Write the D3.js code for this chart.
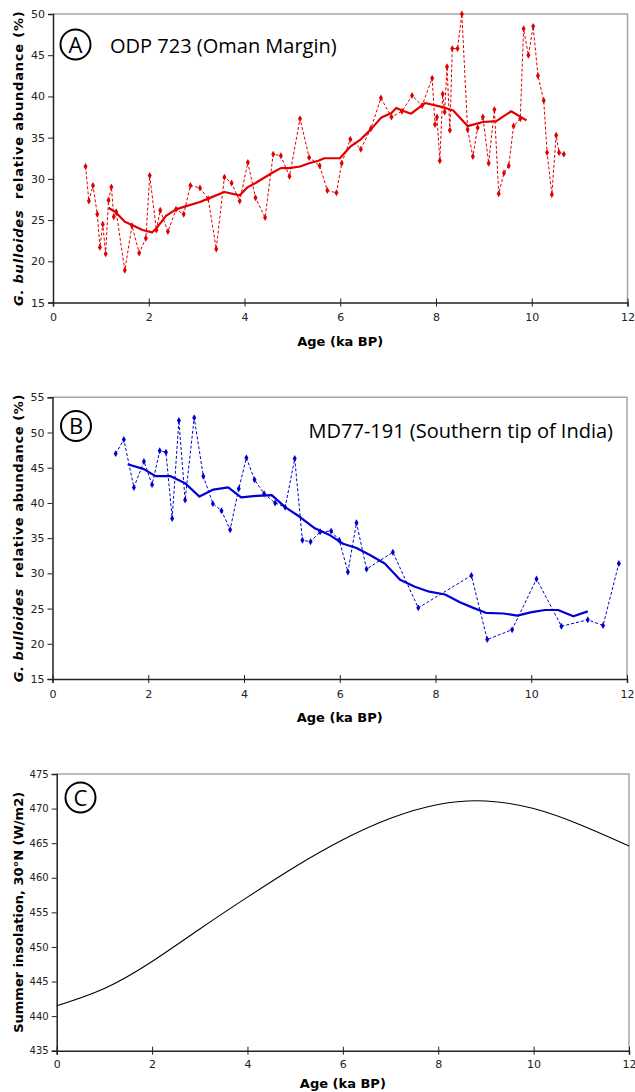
<!DOCTYPE html>
<html>
<head>
<meta charset="utf-8">
<script src="https://cdn.jsdelivr.net/npm/d3@7.9.0/dist/d3.min.js"></script>
<style>
  body { margin: 0; background: #fff; }
  svg { display: block; }
  .tick text { font-family: 'DejaVu Sans', Verdana, sans-serif; fill: #222; }
  .axis-title { font-family: 'DejaVu Sans', Verdana, sans-serif; font-weight: bold; font-size: 13px; fill: #000; }
  .label { font-family: 'Open Sans', 'Noto Sans', sans-serif; fill: #000; }
</style>
</head>
<body>
<div id="chart"></div>
<script>
// Panel A: ODP 723 (Oman Margin)
const ageA = [0.68, 0.75, 0.835, 0.925, 0.98, 1.04, 1.10, 1.16, 1.22, 1.27, 1.32, 1.50, 1.65, 1.80, 1.94,
  2.02, 2.16, 2.24, 2.40, 2.57, 2.73, 2.87, 3.07, 3.24, 3.41, 3.58, 3.73, 3.90, 4.07, 4.23, 4.43, 4.60,
  4.76, 4.94, 5.16, 5.35, 5.57, 5.73, 5.92, 6.03, 6.21, 6.43, 6.64, 6.85, 7.07, 7.29, 7.50, 7.71, 7.92,
  7.98, 8.02, 8.08, 8.14, 8.18, 8.23, 8.29, 8.34, 8.45, 8.54, 8.66, 8.77, 8.87, 8.98, 9.10, 9.22, 9.31,
  9.42, 9.52, 9.62, 9.76, 9.83, 9.93, 10.03, 10.13, 10.25, 10.32, 10.42, 10.51, 10.57, 10.67];
const abundA = [31.5, 27.3, 29.2, 25.7, 21.7, 24.5, 20.9, 27.4, 29.0, 25.4, 26.0, 18.9, 24.3, 21.0, 22.8,
  30.4, 23.8, 26.2, 23.6, 26.3, 25.7, 29.2, 28.9, 27.6, 21.5, 30.2, 29.5, 27.3, 32.0, 27.7, 25.3, 33.0,
  32.8, 30.3, 37.3, 32.6, 31.6, 28.6, 28.3, 31.9, 34.8, 33.6, 36.1, 39.8, 37.5, 38.2, 40.1, 38.9, 42.2,
  36.6, 37.5, 32.2, 40.3, 38.1, 43.6, 35.9, 45.8, 45.8, 50.0, 36.0, 32.7, 36.2, 37.5, 31.9, 38.4, 28.2,
  30.7, 31.6, 36.4, 37.3, 48.2, 45.0, 48.5, 42.5, 39.5, 33.2, 28.1, 35.3, 33.2, 33.0];
const ageAavg = [1.16, 1.32, 1.50, 1.65, 1.87, 2.07, 2.16, 2.36, 2.57, 2.73, 3.07, 3.24, 3.58, 3.90, 4.07,
  4.23, 4.60, 4.76, 4.94, 5.16, 5.35, 5.54, 5.67, 5.99, 6.21, 6.43, 6.64, 6.85, 7.07, 7.17, 7.29, 7.48,
  7.77, 8.14, 8.36, 8.66, 8.98, 9.26, 9.57, 9.89];
const abundAavg = [26.5, 25.9, 24.8, 24.4, 23.8, 23.5, 24.0, 25.5, 26.3, 26.6, 27.2, 27.6, 28.4, 28.0, 29.0,
  29.5, 30.8, 31.3, 31.3, 31.5, 31.9, 32.2, 32.5, 32.5, 33.9, 34.8, 36.0, 37.4, 38.0, 38.6, 38.3, 37.9,
  39.2, 38.7, 38.3, 36.4, 36.9, 37.0, 38.2, 37.1];

// Panel B: MD77-191 (Southern tip of India)
const ageB = [1.32, 1.49, 1.70, 1.91, 2.08, 2.24, 2.37, 2.50, 2.64, 2.77, 2.96, 3.15, 3.35, 3.53, 3.71,
  3.89, 4.05, 4.22, 4.42, 4.65, 4.86, 5.06, 5.22, 5.39, 5.59, 5.82, 5.99, 6.17, 6.35, 6.56, 7.11, 7.64,
  8.75, 9.08, 9.60, 10.11, 10.63, 11.18, 11.50, 11.83];
const abundB = [47.0, 49.0, 42.2, 45.9, 42.6, 47.4, 47.2, 37.8, 51.7, 40.4, 52.1, 43.8, 39.9, 38.9, 36.2,
  42.0, 46.4, 43.3, 41.3, 40.0, 39.4, 46.3, 34.7, 34.5, 35.9, 36.0, 34.7, 30.2, 37.2, 30.6, 33.0, 25.1,
  29.7, 20.6, 22.0, 29.2, 22.5, 23.4, 22.6, 31.4];
const ageBavg = [1.57, 1.91, 2.15, 2.47, 2.77, 3.07, 3.36, 3.67, 3.94, 4.27, 4.58, 4.86, 5.17, 5.48, 5.80,
  6.07, 6.35, 6.63, 6.94, 7.26, 7.57, 7.87, 8.20, 8.51, 8.79, 9.05, 9.42, 9.71, 10.01, 10.29, 10.56,
  10.88, 11.18];
const abundBavg = [45.5, 44.8, 43.8, 43.8, 42.8, 40.9, 41.9, 42.2, 40.8, 41.0, 41.1, 39.4, 38.0, 36.4, 35.4,
  34.2, 33.6, 32.6, 31.4, 29.1, 28.1, 27.4, 27.0, 25.9, 25.1, 24.4, 24.3, 24.0, 24.5, 24.8, 24.8,
  23.9, 24.6];

// Panel C: summer insolation 30N
const ageC = [0, 1, 2, 3, 4, 5, 6, 7, 8, 9, 10, 11, 12];
const insolC = [441.5, 444.0, 447.9, 452.6, 457.2, 461.6, 465.5, 468.6, 470.6, 471.1, 470.0, 467.6, 464.6];

const xTicks = [0, 2, 4, 6, 8, 10, 12];

const W = 635, H = 1092;
const svg = d3.select('#chart').append('svg').attr('width', W).attr('height', H);

function panel(cfg) {
  const x = d3.scaleLinear().domain([0, 12]).range([cfg.left, cfg.right]);
  const y = d3.scaleLinear().domain(cfg.yDomain).range([cfg.bottom, cfg.top]);
  const g = svg.append('g');

  // frame (top/right in grey)
  g.append('path')
    .attr('d', `M${cfg.left},${cfg.top}H${cfg.right}V${cfg.bottom}`)
    .attr('fill', 'none').attr('stroke', '#a6a6a6').attr('stroke-width', 1.5);

  const yAxis = g.append('g')
    .attr('transform', `translate(${cfg.left},0)`)
    .call(d3.axisLeft(y).tickValues(d3.range(cfg.yDomain[0], cfg.yDomain[1] + 1, 5)).tickSize(5).tickPadding(3));
  yAxis.selectAll('.tick text').style('font-size', cfg.yFont + 'px');

  const xAxis = g.append('g')
    .attr('transform', `translate(0,${cfg.bottom})`)
    .call(d3.axisBottom(x).tickValues(xTicks).tickSize(4).tickPadding(cfg.xPad));
  xAxis.selectAll('.tick line').attr('y1', -4).attr('y2', 4);
  xAxis.selectAll('.tick text').style('font-size', '11px');

  [yAxis, xAxis].forEach(a => {
    a.select('.domain').attr('stroke', '#222').attr('stroke-width', 1.5);
    a.selectAll('.tick line').attr('stroke', '#222');
  });

  g.append('text').attr('class', 'axis-title')
    .attr('x', (cfg.left + cfg.right) / 2).attr('y', cfg.bottom + cfg.xTitleDy)
    .attr('text-anchor', 'middle').text('Age (ka BP)');

  const yt = g.append('text').attr('class', 'axis-title')
    .attr('transform', `translate(${cfg.yTitleX},${(cfg.top + cfg.bottom) / 2}) rotate(-90)`)
    .attr('text-anchor', 'middle')
    .style('letter-spacing', cfg.yTitleSpacing + 'px');
  cfg.yTitle.forEach(([t, it]) => yt.append('tspan').style('font-style', it ? 'italic' : 'normal').text(t));

  // circled letter
  g.append('circle').attr('cx', cfg.letter[0]).attr('cy', cfg.letter[1]).attr('r', 15)
    .attr('fill', 'none').attr('stroke', '#000').attr('stroke-width', 2);
  g.append('text').attr('class', 'label')
    .attr('x', cfg.letter[0]).attr('y', cfg.letter[1] + 8)
    .attr('text-anchor', 'middle').style('font-size', '22px').text(cfg.letterText);

  if (cfg.title) {
    g.append('text').attr('class', 'label')
      .attr('x', cfg.title.x).attr('y', cfg.title.y)
      .attr('text-anchor', cfg.title.anchor)
      .style('font-size', '20px').text(cfg.title.text);
  }
  return { g, x, y };
}

function drawSeries(p, ages, vals, avgAges, avgVals, color) {
  const pts = ages.map((a, i) => [a, vals[i]]);
  const line = d3.line().x(d => p.x(d[0])).y(d => p.y(d[1]));
  p.g.append('path').datum(pts)
    .attr('d', line).attr('fill', 'none').attr('stroke', color)
    .attr('stroke-width', 1).attr('stroke-dasharray', '3,2');
  p.g.append('g').selectAll('path').data(pts).join('path')
    .attr('transform', d => `translate(${p.x(d[0])},${p.y(d[1])})`)
    .attr('d', d3.symbol(d3.symbolDiamond, 14))
    .attr('fill', color);
  const avg = avgAges.map((a, i) => [a, avgVals[i]]);
  p.g.append('path').datum(avg)
    .attr('d', line).attr('fill', 'none').attr('stroke', color)
    .attr('stroke-width', 2.2).attr('stroke-linejoin', 'round');
}

const pA = panel({
  left: 53, right: 627.5, top: 14, bottom: 302.5, yDomain: [15, 50], yFont: 11, xPad: 7, xTitleDy: 43,
  yTitleX: 23, yTitleSpacing: 0.8, yTitle: [['G. bulloides', true], ['\u00a0 relative abundance (%)', false]],
  letter: [75.5, 44.5], letterText: 'A',
  title: { x: 110, y: 53, anchor: 'start', text: 'ODP 723 (Oman Margin)' }
});
drawSeries(pA, ageA, abundA, ageAavg, abundAavg, '#e00000');

const pB = panel({
  left: 52.5, right: 627, top: 397.3, bottom: 679, yDomain: [15, 55], yFont: 11, xPad: 7, xTitleDy: 43,
  yTitleX: 23, yTitleSpacing: 0.6, yTitle: [['G. bulloides', true], ['\u00a0 relative abundance (%)', false]],
  letter: [76, 426], letterText: 'B',
  title: { x: 613, y: 438, anchor: 'end', text: 'MD77-191 (Southern tip of India)' }
});
drawSeries(pB, ageB, abundB, ageBavg, abundBavg, '#0000d0');

const pC = panel({
  left: 56.7, right: 629, top: 774, bottom: 1050.7, yDomain: [435, 475], yFont: 10, xPad: 6, xTitleDy: 37,
  yTitleX: 23, yTitleSpacing: 0, yTitle: [['Summer insolation, 30°N (W/m2)', false]],
  letter: [80.5, 797.5], letterText: 'C'
});
pC.g.append('path').datum(ageC.map((a, i) => [a, insolC[i]]))
  .attr('d', d3.line().curve(d3.curveNatural).x(d => pC.x(d[0])).y(d => pC.y(d[1])))
  .attr('fill', 'none').attr('stroke', '#000').attr('stroke-width', 1.1);
</script>
</body>
</html>
